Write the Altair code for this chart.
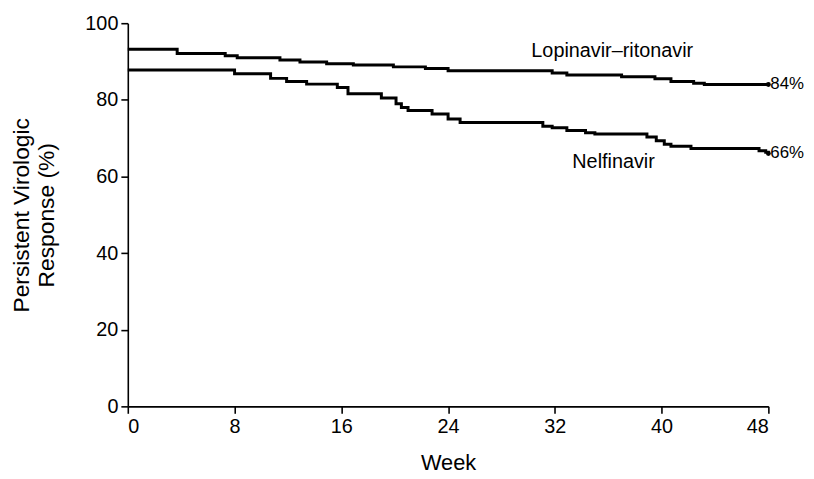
import altair as alt
import pandas as pd

# Lopinavir-ritonavir (Kaplan-Meier step curve)
lpv_weeks = [0, 3.7, 7.3, 8.2, 11.4, 12.9, 14.9, 16.9, 19.9, 22.3, 24.0, 31.8, 32.9, 37.0, 39.5, 40.7, 42.4, 43.2, 48]
lpv_vals = [93.2, 92.1, 91.5, 91.0, 90.4, 89.9, 89.4, 89.1, 88.6, 88.2, 87.6, 87.0, 86.5, 86.0, 85.5, 84.8, 84.3, 84.0, 84.0]

# Nelfinavir
nfv_weeks = [0, 8.0, 10.7, 11.9, 13.4, 15.7, 16.5, 19.0, 20.1, 20.5, 21.0, 22.8, 24.0, 24.9, 31.1, 31.8, 32.9, 34.3,
             35.0, 38.9, 39.6, 40.2, 40.7, 42.2, 47.3, 47.8, 48]
nfv_vals = [87.8, 86.8, 85.6, 84.8, 84.1, 83.2, 81.6, 80.5, 79.0, 78.0, 77.2, 76.3, 75.0, 74.1, 73.1, 72.7, 72.0, 71.4,
            71.1, 70.3, 69.3, 68.4, 67.9, 67.3, 66.7, 66.3, 66.0]

end_weeks = [48, 48]
end_vals = [84, 66]
end_labels = ["84%", "66%"]

series_names = ["Lopinavir\u2013ritonavir", "Nelfinavir"]
label_weeks = [36.3, 36.4]
label_vals = [92.8, 63.8]

FONT = "Liberation Sans"

curves = pd.DataFrame(
    [{"week": w, "value": v, "series": series_names[0]} for w, v in zip(lpv_weeks, lpv_vals)]
    + [{"week": w, "value": v, "series": series_names[1]} for w, v in zip(nfv_weeks, nfv_vals)]
)
ends = pd.DataFrame({"week": end_weeks, "value": end_vals, "label": end_labels})
names = pd.DataFrame({"week": label_weeks, "value": label_vals, "label": series_names})

xscale = alt.Scale(domain=[0, 48], nice=False, zero=False)
yscale = alt.Scale(domain=[0, 100], nice=False)

xaxis = alt.Axis(values=[0, 8, 16, 24, 32, 40, 48], title="Week", titlePadding=17, titleFontSize=22)
yaxis = alt.Axis(values=[0, 20, 40, 60, 80, 100], title=["Persistent Virologic", "Response (%)"],
                 titlePadding=27, titleFontSize=23)

lines = alt.Chart(curves).mark_line(interpolate="step-after", color="black", strokeWidth=3).encode(
    x=alt.X("week:Q", scale=xscale, axis=xaxis),
    y=alt.Y("value:Q", scale=yscale, axis=yaxis),
    detail="series:N",
)

dots = alt.Chart(ends).mark_point(filled=True, color="black", size=24, opacity=1).encode(
    x=alt.X("week:Q", scale=xscale),
    y=alt.Y("value:Q", scale=yscale),
)

end_text = alt.Chart(ends).mark_text(align="left", baseline="middle", dx=2, fontSize=17, font=FONT, color="black").encode(
    x=alt.X("week:Q", scale=xscale),
    y=alt.Y("value:Q", scale=yscale),
    text="label:N",
)

name_text = alt.Chart(names).mark_text(align="center", baseline="middle", fontSize=20, font=FONT, color="black").encode(
    x=alt.X("week:Q", scale=xscale),
    y=alt.Y("value:Q", scale=yscale),
    text="label:N",
)

chart = (
    alt.layer(lines, dots, end_text, name_text)
    .properties(
        width=647,
        height=387,
        autosize=alt.AutoSizeParams(type="none"),
        padding={"left": 121, "top": 13, "right": 38, "bottom": 70},
    )
    .configure_view(stroke=None)
    .configure_axis(
        grid=False,
        domainColor="black",
        domainWidth=1.6,
        tickColor="black",
        tickWidth=1.6,
        tickSize=7,
        labelFont=FONT,
        labelFontSize=20,
        labelColor="black",
        labelPadding=3,
        titleFont=FONT,
        titleFontWeight="normal",
        titleColor="black",
    )
)

chart.save("out.html", embed_options={"renderer": "svg", "actions": False})
